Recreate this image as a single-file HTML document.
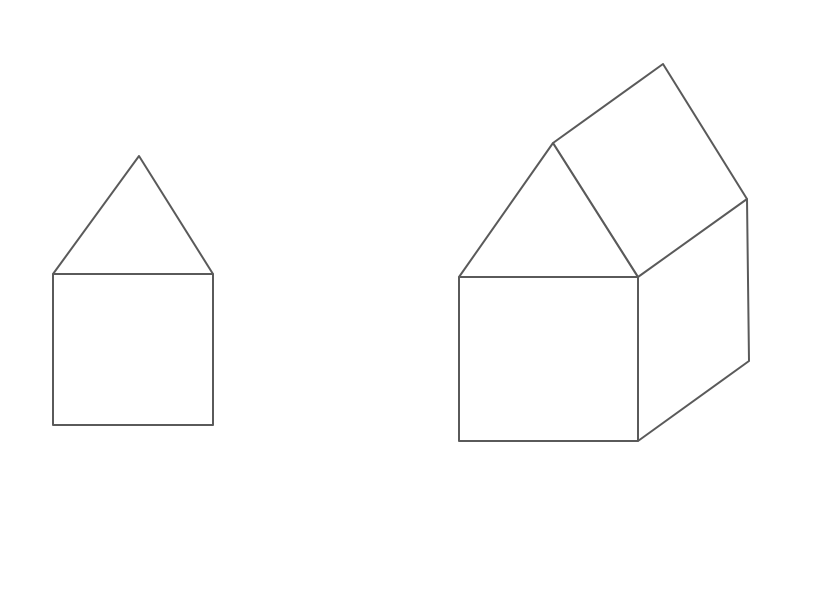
<!DOCTYPE html>
<html>
<head>
<meta charset="utf-8">
<style>
  html, body { margin: 0; padding: 0; background: #fff; }
  svg { display: block; }
</style>
</head>
<body>
<svg width="840" height="600" viewBox="0 0 840 600">
  <g fill="none" stroke="#5a5a5a" stroke-width="2" stroke-linejoin="round" stroke-linecap="round">
    <g>
      <rect x="53" y="274" width="160" height="151"/>
      <polyline points="53,274 139,156 213,274"/>
    </g>
    <g>
      <rect x="459" y="277" width="179" height="164"/>
      <polyline points="459,277 553,143 638,277"/>
      <polygon points="553,143 663,64 747,199 638,277"/>
      <polyline points="747,199 749,361 638,441"/>
    </g>
  </g>
</svg>
</body>
</html>
